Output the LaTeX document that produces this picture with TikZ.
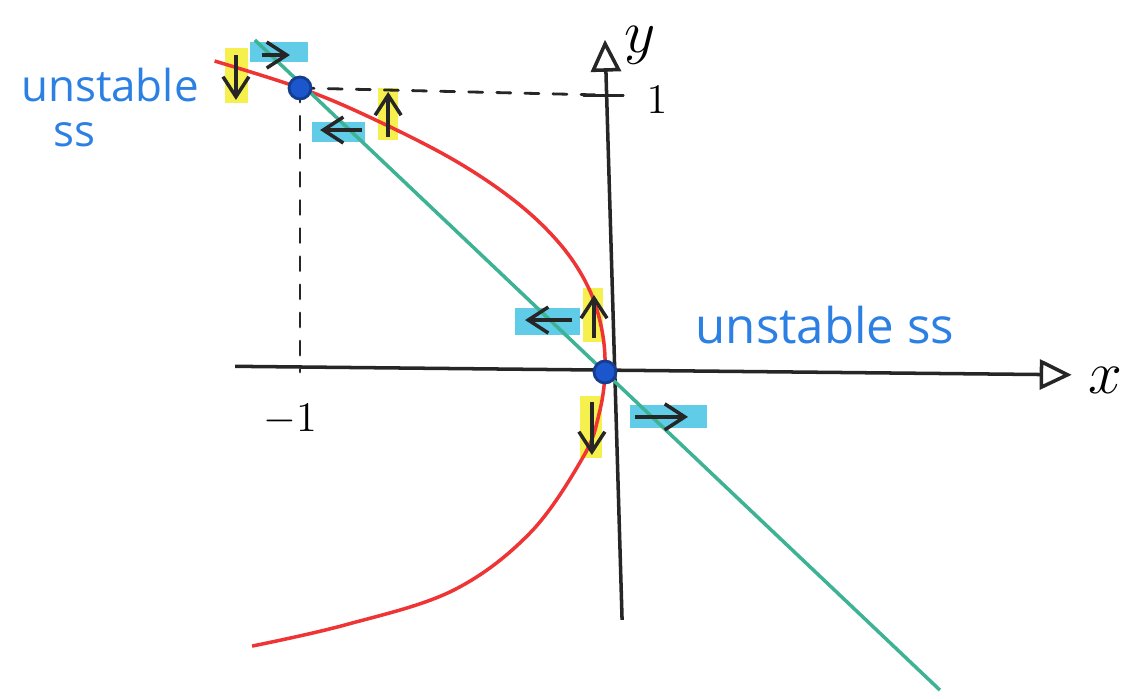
\documentclass[tikz,border=0pt]{standalone}
\usepackage{fontspec}
\newfontfamily\handfont{Open Sans}
\usepackage{tkz-euclide}
\usetikzlibrary{arrows.meta,calc}
\definecolor{CurveClr}{RGB}{238,52,52}
\definecolor{LineClr}{RGB}{62,178,148}
\definecolor{FlowXClr}{RGB}{96,204,232}
\definecolor{FlowYClr}{RGB}{246,240,78}
\definecolor{DotClr}{RGB}{28,86,204}
\definecolor{NoteClr}{RGB}{44,128,228}

\begin{document}
\begin{tikzpicture}[x=3.05cm,y=2.84cm,
  axis/.style={line width=1pt,color=black!85,-{Triangle[open,length=3.2mm,width=3mm]}},
  flowx/.style={fill=FlowXClr},
  flowy/.style={fill=FlowYClr},
  flow/.style={line width=1pt,color=black!85,-{Straight Barb[length=2mm,width=2.6mm]}},
  ss/.style={circle,fill=DotClr,draw=DotClr!70!black,line width=0.8pt,minimum size=0.22cm,inner sep=0pt},
  note/.style={font=\handfont\fontsize{14}{16}\selectfont,color=NoteClr}]
\useasboundingbox (-1.9836,-1.1479) rectangle (1.7311,1.3099);

\tkzDefPoints{0/0/O,-1/1/P,-1/0/Px,0/0.975/Py,-1.213/0.02/Xa,1.53/-0.01/Xb,0.056/-0.873/Ya,0/1.17/Yb}
\tkzDefPoints{-1.148/1.169/La,1.098/-1.12/Lb,-0.07/0.975/Ta,0.06/0.975/Tb}

% highlighted flow directions
\fill[flowx] (-1.164,1.092) rectangle (-0.974,1.162);
\fill[flowy] (-1.246,0.947) rectangle (-1.170,1.141);
\fill[flowx] (-0.961,0.810) rectangle (-0.787,0.880);
\fill[flowy] (-0.744,0.817) rectangle (-0.679,1.000);
\fill[flowx] (-0.295,0.130) rectangle (-0.082,0.225);
\fill[flowy] (-0.072,0.106) rectangle (-0.007,0.296);
\fill[flowy] (-0.082,-0.303) rectangle (-0.010,-0.085);
\fill[flowx] (0.082,-0.197) rectangle (0.334,-0.116);

% axes
\draw[axis] (Xa) -- (Xb);
\draw[axis] (Ya) -- (Yb);
\tkzDrawSegments[line width=0.8pt,color=black!85](Ta,Tb)
\tkzDrawSegments[line width=0.8pt,color=black!85,dash pattern=on 4pt off 4pt](P,Px P,Py)

% nullclines
\draw[CurveClr,line width=1pt] plot[smooth,tension=0.6] coordinates {(-1.157,-0.965) (-0.85,-0.89)
  (-0.5,-0.77) (-0.246,-0.567) (-0.072,-0.30) (-0.02,-0.15) (0,0)
  (-0.0105,0.15) (-0.0556,0.3) (-0.147,0.45) (-0.293,0.6) (-0.501,0.75) (-0.777,0.9) (-1,1) (-1.28,1.095)};
\draw[LineClr,line width=1pt] (La) -- (Lb);

% flow arrows
\draw[flow] (-1.125,1.116) -- (-1.033,1.116);
\draw[flow] (-1.21,1.116) -- (-1.21,0.958);
\draw[flow] (-0.797,0.852) -- (-0.934,0.852);
\draw[flow] (-0.711,0.827) -- (-0.711,0.986);
\draw[flow] (-0.108,0.183) -- (-0.262,0.183);
\draw[flow] (-0.036,0.120) -- (-0.036,0.271);
\draw[flow] (-0.043,-0.106) -- (-0.043,-0.292);
\draw[flow] (0.098,-0.158) -- (0.272,-0.158);

% steady states
\node[ss] (ssO) at (O) {};
\node[ss] (ssP) at (P) {};

% labels
\node[font=\fontsize{17}{19}\selectfont] (xlab) at (1.639,-0.028) {$x$};
\node[font=\fontsize{17}{19}\selectfont] (ylab) at (0.115,1.151) {$y$};
\node[font=\fontsize{12}{14}\selectfont] (one) at (0.17,0.958) {$1$};
\node[font=\fontsize{12}{14}\selectfont] (mone) at (-1.033,-0.169) {$-1$};
\node[note] (noteO) at (0.721,0.165) {unstable ss};
\node[note,font=\handfont\fontsize{12.5}{14}\selectfont,anchor=west] (noteP) at (-1.955,1.01) {unstable};
\node[note,font=\handfont\fontsize{12.5}{14}\selectfont] (notePs) at (-1.738,0.835) {ss};
\end{tikzpicture}
\end{document}
